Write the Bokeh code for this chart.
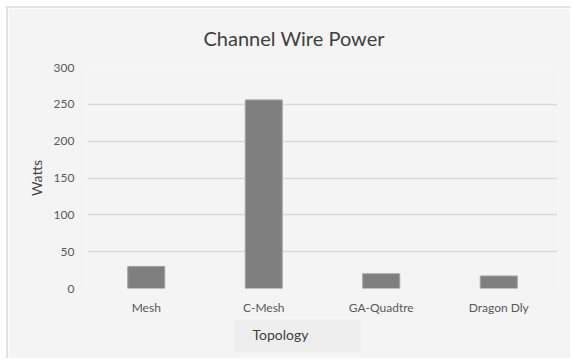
from bokeh.plotting import figure
from bokeh.models import ColumnDataSource, Range1d, Title
from bokeh.embed import file_html
from bokeh.resources import INLINE

# Channel wire power per topology (watts)
topologies = ["Mesh", "C-Mesh", "GA-Quadtre", "Dragon Dly"]
watts = [30, 256, 20, 17]
y_ticks = [0, 50, 100, 150, 200, 250, 300]

FONT = "Lato"
PANEL = "#f4f4f4"
TEXT = "#595959"

source = ColumnDataSource(data=dict(topology=topologies, watts=watts))

p = figure(
    x_range=topologies,
    y_range=Range1d(0, 300),
    width=564,
    height=352,
    output_backend="svg",
    toolbar_location=None,
    background_fill_color=PANEL,
    border_fill_color=PANEL,
    min_border_left=79,
    min_border_right=15,
    min_border_top=59,
    min_border_bottom=72,
    margin=(6, 0, 0, 6),
)
p.styles = {"border-top": "2px solid #e2e2e2", "border-left": "2px solid #e2e2e2"}
p.outline_line_color = None

p.vbar(x="topology", top="watts", width=0.315, source=source,
       fill_color="#7f7f7f", line_color="#a3a3a3", line_width=1)

# grid
p.xgrid.grid_line_color = None
p.ygrid.grid_line_color = "#d9d9d9"
p.ygrid.grid_line_width = 1.5
p.yaxis.ticker = y_ticks

# axes
for ax in (p.xaxis, p.yaxis):
    ax.axis_line_color = None
    ax.major_tick_line_color = None
    ax.minor_tick_line_color = None
    ax.major_tick_out = 0
    ax.major_tick_in = 0
    ax.major_label_text_font = FONT
    ax.major_label_text_font_size = "12px"
    ax.major_label_text_color = TEXT

p.xaxis.major_label_standoff = 11
p.yaxis.major_label_standoff = 13
p.yaxis.axis_label = "Watts"
p.yaxis.axis_label_text_font = FONT
p.yaxis.axis_label_text_font_size = "14px"
p.yaxis.axis_label_text_font_style = "normal"
p.yaxis.axis_label_text_color = "#404040"
p.yaxis.axis_label_standoff = 6

# chart title, placed over the middle of the whole panel rather than the frame
p.title.text = "Channel Wire Power"
p.title.align = "left"
p.title.offset = 116
p.title.vertical_align = "top"
p.title.standoff = 31
p.title.text_font = FONT
p.title.text_font_size = "20px"
p.title.text_font_style = "normal"
p.title.text_color = "#404040"

# category axis title in its own shaded box
p.add_layout(Title(
    text="Topology", align="left", offset=146, standoff=0,
    text_font=FONT, text_font_size="14px", text_font_style="normal",
    text_color="#404040",
    background_fill_color="#eeeeee", padding=(19, 53, 6, 10),
), "below")

open("out.html", "w").write(file_html(p, INLINE))
